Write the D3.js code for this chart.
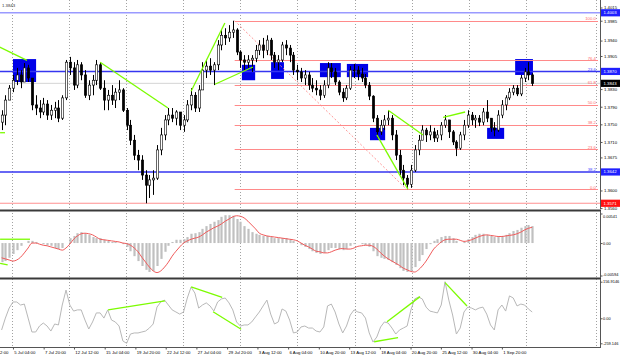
<!DOCTYPE html>
<html><head><meta charset="utf-8">
<script src="https://cdn.jsdelivr.net/npm/d3@7"></script>
<style>html,body{margin:0;padding:0;background:#fff;}svg{display:block;font-family:"Liberation Sans",Arial,sans-serif;}</style>
</head><body><svg id="c" width="620" height="357"></svg>
<script>
// ---------- DATA ----------
const firstOpen = 1.3755;
const highs = [1.3782,1.3816,1.3839,1.3862,1.3878,1.3873,1.3889,1.3885,1.3855,1.3816,
1.3805,1.3810,1.3805,1.3794,1.3801,1.3805,1.3816,1.3896,1.3903,1.3891,
1.3896,1.3891,1.3873,1.3850,1.3862,1.3896,1.3891,1.3850,1.3828,1.3839,
1.3832,1.3850,1.3832,1.3787,1.3760,1.3726,1.3692,1.3680,1.3646,1.3635,
1.3646,1.3703,1.3742,1.3771,1.3787,1.3787,1.3782,1.3778,1.3771,1.3805,
1.3832,1.3823,1.3839,1.3891,1.3896,1.3900,1.3891,1.3941,1.3964,1.3968,
1.3975,1.3985,1.3968,1.3918,1.3907,1.3907,1.3907,1.3930,1.3941,1.3946,
1.3952,1.3946,1.3914,1.3907,1.3937,1.3941,1.3930,1.3914,1.3885,1.3878,
1.3873,1.3869,1.3855,1.3850,1.3839,1.3850,1.3891,1.3889,1.3878,1.3850,
1.3832,1.3839,1.3882,1.3887,1.3882,1.3878,1.3864,1.3846,1.3816,1.3771,
1.3760,1.3771,1.3782,1.3771,1.3737,1.3692,1.3658,1.3635,1.3658,1.3703,
1.3726,1.3748,1.3742,1.3748,1.3742,1.3737,1.3755,1.3771,1.3760,1.3737,
1.3714,1.3733,1.3760,1.3782,1.3778,1.3771,1.3771,1.3787,1.3805,1.3764,
1.3755,1.3782,1.3805,1.3816,1.3832,1.3839,1.3839,1.3862,1.3878,1.3891,
1.3866];
const lows = [1.3737,1.3748,1.3805,1.3823,1.3839,1.3832,1.3850,1.3846,1.3782,1.3771,
1.3764,1.3771,1.3760,1.3760,1.3764,1.3755,1.3760,1.3805,1.3862,1.3828,
1.3832,1.3850,1.3810,1.3805,1.3816,1.3839,1.3828,1.3782,1.3782,1.3794,
1.3787,1.3805,1.3778,1.3737,1.3703,1.3669,1.3646,1.3624,1.3571,1.3583,
1.3590,1.3624,1.3680,1.3714,1.3748,1.3755,1.3748,1.3737,1.3733,1.3755,
1.3782,1.3778,1.3778,1.3828,1.3855,1.3862,1.3839,1.3873,1.3918,1.3930,
1.3937,1.3946,1.3907,1.3878,1.3873,1.3878,1.3869,1.3891,1.3907,1.3900,
1.3907,1.3896,1.3878,1.3873,1.3891,1.3907,1.3891,1.3862,1.3850,1.3846,
1.3839,1.3828,1.3823,1.3816,1.3805,1.3810,1.3832,1.3855,1.3839,1.3816,
1.3801,1.3805,1.3828,1.3855,1.3850,1.3846,1.3832,1.3805,1.3755,1.3719,
1.3726,1.3737,1.3748,1.3714,1.3669,1.3635,1.3612,1.3603,1.3606,1.3642,
1.3680,1.3714,1.3710,1.3714,1.3710,1.3710,1.3714,1.3742,1.3719,1.3703,
1.3678,1.3692,1.3714,1.3742,1.3748,1.3742,1.3746,1.3748,1.3755,1.3733,
1.3723,1.3733,1.3764,1.3782,1.3805,1.3816,1.3814,1.3814,1.3846,1.3850,
1.3837];
const closes = [1.3771,1.3805,1.3832,1.3850,1.3862,1.3846,1.3878,1.3855,1.3794,1.3787,
1.3778,1.3796,1.3771,1.3782,1.3787,1.3764,1.3810,1.3891,1.3878,1.3839,
1.3885,1.3862,1.3816,1.3839,1.3850,1.3885,1.3832,1.3805,1.3816,1.3805,
1.3823,1.3828,1.3782,1.3748,1.3714,1.3680,1.3669,1.3635,1.3612,1.3624,
1.3628,1.3692,1.3726,1.3760,1.3771,1.3764,1.3778,1.3748,1.3760,1.3794,
1.3816,1.3787,1.3828,1.3873,1.3882,1.3873,1.3885,1.3930,1.3952,1.3946,
1.3959,1.3964,1.3914,1.3896,1.3891,1.3896,1.3900,1.3918,1.3930,1.3918,
1.3941,1.3907,1.3891,1.3896,1.3930,1.3923,1.3907,1.3873,1.3869,1.3855,
1.3862,1.3839,1.3832,1.3828,1.3816,1.3839,1.3878,1.3869,1.3846,1.3823,
1.3810,1.3832,1.3873,1.3873,1.3864,1.3855,1.3839,1.3814,1.3764,1.3733,
1.3748,1.3760,1.3764,1.3726,1.3680,1.3646,1.3628,1.3614,1.3646,1.3692,
1.3714,1.3737,1.3726,1.3733,1.3719,1.3726,1.3748,1.3760,1.3733,1.3710,
1.3696,1.3726,1.3748,1.3771,1.3760,1.3764,1.3755,1.3778,1.3764,1.3742,
1.3737,1.3771,1.3794,1.3810,1.3823,1.3832,1.3819,1.3855,1.3869,1.3862,
1.3843];

const macdHist = [-0.0035,-0.0033,-0.0027,-0.0020,-0.0013,-0.0005,0,0.0004,0.0004,0.0002,
0,-0.0002,-0.0004,-0.0005,-0.0009,-0.0011,-0.0009,0,0.0009,0.0013,
0.0018,0.0020,0.0017,0.0015,0.0011,0.0009,0.0009,0.0006,0.0004,0.0002,
0.0002,0,-0.0002,-0.0007,-0.0015,-0.0024,-0.0033,-0.0042,-0.0049,-0.0053,
-0.0051,-0.0042,-0.0029,-0.0016,-0.0005,0.0002,0.0006,0.0006,0.0007,0.0011,
0.0017,0.0018,0.0020,0.0026,0.0031,0.0035,0.0039,0.0042,0.0048,0.0051,
0.0051,0.0050,0.0044,0.0039,0.0031,0.0026,0.0020,0.0017,0.0015,0.0013,
0.0013,0.0011,0.0009,0.0009,0.0009,0.0009,0.0007,0.0004,0,-0.0004,
-0.0007,-0.0011,-0.0015,-0.0018,-0.0020,-0.0018,-0.0013,-0.0009,-0.0009,-0.0011,
-0.0013,-0.0011,-0.0005,-0.0002,0,-0.0002,-0.0004,-0.0007,-0.0015,-0.0024,
-0.0027,-0.0029,-0.0031,-0.0035,-0.0040,-0.0046,-0.0051,-0.0053,-0.0051,-0.0044,
-0.0033,-0.0022,-0.0011,-0.0002,0.0004,0.0007,0.0011,0.0013,0.0013,0.0009,
0.0004,0,0.0002,0.0007,0.0011,0.0015,0.0017,0.0017,0.0015,0.0013,
0.0011,0.0011,0.0013,0.0015,0.0018,0.0022,0.0024,0.0028,0.0031,0.0033,
0.0031];
const macdSignal = [-0.0027,-0.0029,-0.0031,-0.0033,-0.0031,-0.0026,-0.0018,-0.0009,0,0,
-0.0002,-0.0004,-0.0005,-0.0007,-0.0009,-0.0011,-0.0013,-0.0009,-0.0002,0.0007,
0.0013,0.0017,0.0018,0.0017,0.0015,0.0011,0.0007,0.0006,0.0005,0.0004,
0.0003,0.0002,0,-0.0001,-0.0004,-0.0009,-0.0016,-0.0026,-0.0035,-0.0044,
-0.0051,-0.0054,-0.0051,-0.0044,-0.0035,-0.0024,-0.0015,-0.0007,0,0.0004,
0.0007,0.0009,0.0011,0.0015,0.0020,0.0024,0.0028,0.0031,0.0035,0.0040,
0.0044,0.0048,0.0050,0.0049,0.0046,0.0040,0.0033,0.0026,0.0018,0.0015,
0.0013,0.0012,0.0011,0.0010,0.0009,0.0008,0.0007,0.0006,0.0004,0,
-0.0004,-0.0007,-0.0011,-0.0015,-0.0016,-0.0018,-0.0018,-0.0016,-0.0013,-0.0011,
-0.0010,-0.0011,-0.0011,-0.0009,-0.0006,-0.0005,-0.0004,-0.0004,-0.0006,-0.0011,
-0.0018,-0.0024,-0.0029,-0.0033,-0.0037,-0.0041,-0.0046,-0.0049,-0.0052,-0.0053,
-0.0049,-0.0042,-0.0033,-0.0022,-0.0011,-0.0004,0.0002,0.0006,0.0007,0.0007,
0.0007,0.0005,0.0003,0.0004,0.0006,0.0009,0.0012,0.0014,0.0015,0.0014,
0.0013,0.0012,0.0012,0.0013,0.0014,0.0015,0.0017,0.0020,0.0024,0.0027,
0.0029];
const cci = [-121,1,44,70,70,57,61,1,-142,-142,
-80,-49,-80,-132,-59,-69,57,121,57,31,
36,36,-18,-111,-38,23,23,1,36,-18,
-38,-80,-235,-259.146,-163,-152,-152,-142,-132,-101,
-59,48,70,78,57,36,27,18,27,87,
134,108,44,57,66,53,31,70,83,87,
66,36,-38,-80,-69,-69,-38,6,27,53,
78,18,-59,-38,40,31,-18,-152,-142,-90,
-80,-101,-101,-132,-142,-90,53,61,27,-59,
-152,-80,14,36,27,23,1,-152,-246,-194,
-90,-38,-49,-101,-163,-121,-101,-80,36,83,
91,83,48,31,27,23,57,156.9146,78,14,
-163,-101,27,48,44,36,44,48,18,-69,
-121,36,57,31,96,87,53,61,57,40,
27];

const timeLabels = ["30 Jun 12:00","5 Jul 04:00","7 Jul 20:00","12 Jul 12:00","15 Jul 04:00","19 Jul 20:00","22 Jul 12:00","27 Jul 04:00","29 Jul 20:00","3 Aug 12:00","6 Aug 04:00","10 Aug 20:00","13 Aug 12:00","18 Aug 04:00","20 Aug 20:00","25 Aug 12:00","30 Aug 04:00","1 Sep 20:00"];
const timeLabelBars = [-5.1,3,11.1,19.1,27.2,35.3,43.3,51.4,59.5,67.5,75.6,83.7,91.7,99.8,107.9,115.9,124,132];
const gridBars = [2.74,17.8,32.8,47.9,62.9,78.0,93.3,108.3,123.3,138.4,156.8];

const priceTicks = [1.4015,1.3985,1.3940,1.3905,1.3830,1.3790,1.3750,1.3710,1.3675,1.3600,1.3560];
const levelPrices = [1.4003,1.3870,1.3642];
const levelTags = ["","23.6","38.2"];
const lastPrice = 1.3843;
const lowMark = 1.3571;

const fibNames = ["100.0","76.4","61.8","50.0","38.2","23.6","0.0"];
const fibPrices = [1.3985,1.3895,1.3839,1.3794,1.3749,1.3693,1.3603];
const fibAnchorBars = [61.5,106.8];
const fibAnchorPrices = [1.3985,1.3603];

const zoneBars = [[3.0,9.1],[63.4,66.9],[71.1,74.5],[84.0,89.5],[91.1,96.7],[97.2,101.2],[128.1,132.6],[135.5,140.2]];
const zonePrices = [[1.3898,1.3846],[1.3885,1.3850],[1.3891,1.3853],[1.3889,1.3857],[1.3887,1.3857],[1.3742,1.3714],[1.3742,1.3717],[1.3898,1.3862]];

const trendBars = [[-0.5,6.7],[26,43.9],[50,58.9],[56.3,66.3],[102,111.2],[99,107.2],[116.5,122.3],[-0.4,0.9]];
const trendPrices = [[1.3925,1.3895],[1.3891,1.3787],[1.3825,1.3980],[1.3841,1.3880],[1.3782,1.3726],[1.3726,1.3603],[1.3766,1.3778],[1.3731,1.3731]];
const macdTrendBars = [[-0.4,7.5],[-0.4,1.6]];
const macdTrendVals = [[0.0007,0.0007],[-0.0037,-0.0040]];
const cciTrendBars = [[28.1,43.1],[50,58.2],[55.8,63.2],[101.7,110.4],[98.3,104.6],[117,122.8]];
const cciTrendVals = [[36,75],[135,90],[28,-114],[-35,93],[-243,-201],[153,53]];

const macdTicks = [0.00541,0,-0.00594];
const macdTickLabels = ["0.00541","0.00","-0.00594"];
const cciTicks = [156.9146,0,-259.146];
const cciTickLabels = ["156.9146","0.00","-259.146"];

// ---------- LAYOUT ----------
const R = 600, FS = 4.3, FS2 = 3.9;
const svg = d3.select("#c");
const x = d3.scaleLinear().domain([0,140]).range([1.6,532.2]);
const yP = d3.scaleLinear().domain([1.3558,1.4032]).range([209,0]);
const yM = d3.scaleLinear().domain([-0.00594,0.00541]).range([275.5,213.5]);
const yC = d3.scaleLinear().domain([-259.146,0,156.9146]).range([343.3,318.3,281.7]);
const GREEN = "#7cfc00", PINK = "#ff8a8a";

svg.append("rect").attr("width",620).attr("height",357).attr("fill","#fff");
const defs = svg.append("defs");
[["cm",0,0,R,209],["cmacd",0,212,R,66],["ccci",0,280,R,67]].forEach(([id,x0,y0,w,h])=>{
  defs.append("clipPath").attr("id",id).append("rect").attr("x",x0).attr("y",y0).attr("width",w).attr("height",h);
});

// grid
svg.append("g").selectAll("line").data(gridBars).join("line")
  .attr("x1",d=>Math.round(x(d))+0.5).attr("x2",d=>Math.round(x(d))+0.5)
  .attr("y1",0).attr("y2",347).attr("stroke","#8a8a8a").attr("stroke-width",0.8).attr("stroke-dasharray","1,2");

// ---------- MAIN ----------
const main = svg.append("g").attr("clip-path","url(#cm)");
main.selectAll("rect.zone").data(zoneBars).join("rect").attr("class","zone")
  .attr("x",d=>x(d[0])).attr("width",d=>x(d[1])-x(d[0]))
  .attr("y",(d,i)=>yP(zonePrices[i][0])).attr("height",(d,i)=>yP(zonePrices[i][1])-yP(zonePrices[i][0]))
  .attr("fill","#0000e8");
main.append("line").attr("x1",0).attr("x2",R).attr("y1",yP(lastPrice)).attr("y2",yP(lastPrice)).attr("stroke","#c8c8c8").attr("stroke-width",0.8);
main.append("line").attr("x1",0).attr("x2",R).attr("y1",yP(lowMark)).attr("y2",yP(lowMark)).attr("stroke","#ff9090").attr("stroke-width",1.2);
main.selectAll("line.fib").data(fibPrices).join("line").attr("class","fib")
  .attr("x1",x(fibAnchorBars[0])).attr("x2",598).attr("y1",d=>Math.round(yP(d))+0.5).attr("y2",d=>Math.round(yP(d))+0.5)
  .attr("stroke",PINK).attr("stroke-width",1);
main.append("line").attr("x1",x(fibAnchorBars[0])).attr("y1",yP(fibAnchorPrices[0]))
  .attr("x2",x(fibAnchorBars[1])).attr("y2",yP(fibAnchorPrices[1]))
  .attr("stroke",PINK).attr("stroke-width",0.9).attr("stroke-dasharray","2,2");
main.selectAll("line.lvl").data(levelPrices).join("line").attr("class","lvl")
  .attr("x1",0).attr("x2",R).attr("y1",d=>yP(d)).attr("y2",d=>yP(d))
  .attr("stroke",(d,i)=>i===0?"#9a9aff":"#3535f0").attr("stroke-width",(d,i)=>i===0?1.6:1.4);

// candles
const cand = closes.map((c,i)=>{const o=i?closes[i-1]:firstOpen;return {i,o,c,h:Math.max(highs[i],o,c),l:Math.min(lows[i],o,c)};});
main.append("g").selectAll("line").data(cand).join("line")
  .attr("x1",d=>Math.round(x(d.i))+0.5).attr("x2",d=>Math.round(x(d.i))+0.5)
  .attr("y1",d=>yP(d.h)).attr("y2",d=>yP(d.l)).attr("stroke","#000").attr("stroke-width",1);
main.append("g").selectAll("rect").data(cand).join("rect")
  .attr("x",d=>Math.round(x(d.i))+0.5-1.2).attr("width",2.4)
  .attr("y",d=>yP(Math.max(d.o,d.c))).attr("height",d=>Math.max(0.6,yP(Math.min(d.o,d.c))-yP(Math.max(d.o,d.c))))
  .attr("fill",d=>d.c>=d.o?"#fff":"#000").attr("stroke","#000").attr("stroke-width",0.6);

main.selectAll("line.tr").data(trendBars).join("line").attr("class","tr")
  .attr("x1",d=>x(d[0])).attr("x2",d=>x(d[1]))
  .attr("y1",(d,i)=>yP(trendPrices[i][0])).attr("y2",(d,i)=>yP(trendPrices[i][1]))
  .attr("stroke",GREEN).attr("stroke-width",1.3);

main.selectAll("text.fl").data(fibNames).join("text").attr("class","fl")
  .attr("x",596).attr("y",(d,i)=>yP(fibPrices[i])-0.6).attr("text-anchor","end")
  .attr("font-size",FS).attr("fill","#ff6a6a").text(d=>d);
main.selectAll("text.ll").data(levelTags).join("text").attr("class","ll")
  .attr("x",596).attr("y",(d,i)=>yP(levelPrices[i])-0.8).attr("text-anchor","end")
  .attr("font-size",FS).attr("fill","#4a4aff").text(d=>d);
main.append("text").attr("x",2).attr("y",7).attr("font-size",FS).attr("fill","#333").text("1.3843");

// ---------- MACD ----------
const gm = svg.append("g").attr("clip-path","url(#cmacd)");
gm.selectAll("rect").data(macdHist).join("rect")
  .attr("x",(d,i)=>Math.round(x(i))+0.5-1.1).attr("width",2.2)
  .attr("y",d=>Math.min(yM(d),yM(0))).attr("height",d=>Math.abs(yM(d)-yM(0)))
  .attr("fill","#c0c0c0");
gm.append("path").datum(macdSignal)
  .attr("d",d3.line().x((d,i)=>x(i)).y(d=>yM(d)).curve(d3.curveMonotoneX))
  .attr("fill","none").attr("stroke","#f05a5a").attr("stroke-width",1);
gm.selectAll("line.mt").data(macdTrendBars).join("line").attr("class","mt")
  .attr("x1",d=>x(d[0])).attr("x2",d=>x(d[1]))
  .attr("y1",(d,i)=>yM(macdTrendVals[i][0])).attr("y2",(d,i)=>yM(macdTrendVals[i][1]))
  .attr("stroke",GREEN).attr("stroke-width",1.3);

// ---------- CCI ----------
const gc = svg.append("g").attr("clip-path","url(#ccci)");
gc.append("path").datum(cci)
  .attr("d",d3.line().x((d,i)=>x(i)).y(d=>yC(d)))
  .attr("fill","none").attr("stroke","#b8b8b8").attr("stroke-width",1);
gc.selectAll("line.ct").data(cciTrendBars).join("line").attr("class","ct")
  .attr("x1",d=>x(d[0])).attr("x2",d=>x(d[1]))
  .attr("y1",(d,i)=>yC(cciTrendVals[i][0])).attr("y2",(d,i)=>yC(cciTrendVals[i][1]))
  .attr("stroke",GREEN).attr("stroke-width",1.3);

// ---------- FRAMES ----------
svg.append("rect").attr("x",0).attr("y",209.5).attr("width",R+1).attr("height",2).attr("fill","#3a3a3a");
svg.append("rect").attr("x",0).attr("y",277.5).attr("width",R+1).attr("height",2).attr("fill","#3a3a3a");
svg.append("line").attr("x1",0).attr("x2",R+1).attr("y1",347.5).attr("y2",347.5).attr("stroke","#555").attr("stroke-width",1);

// ---------- AXES ----------
function styleAxis(g, fs){
  g.selectAll("text").attr("font-size",fs).attr("fill","#000").attr("font-family","'Liberation Sans',Arial,sans-serif");
  g.selectAll("line").attr("stroke","#555");
  g.select(".domain").attr("stroke","#555");
}
const axP = svg.append("g").attr("transform",`translate(${R+0.5},0)`)
  .call(d3.axisRight(yP).tickValues(priceTicks).tickFormat(d3.format(".4f")).tickSize(2).tickPadding(1.5));
styleAxis(axP, FS);
axP.select(".domain").attr("d","M0,0V209");
const axM = svg.append("g").attr("transform",`translate(${R+0.5},0)`)
  .call(d3.axisRight(yM).tickValues(macdTicks).tickFormat((d,i)=>macdTickLabels[i]).tickSize(2).tickPadding(0.5));
styleAxis(axM, FS2);
axM.select(".domain").attr("d","M0,211V278");
axM.selectAll(".tick text").attr("dy",(d,i)=>i===0?"0.9em":i===2?"0.1em":"0.32em");
const axC = svg.append("g").attr("transform",`translate(${R+0.5},0)`)
  .call(d3.axisRight(yC).tickValues(cciTicks).tickFormat((d,i)=>cciTickLabels[i]).tickSize(2).tickPadding(0.5));
styleAxis(axC, FS2);
axC.select(".domain").attr("d","M0,279V347");

const timeAxis = svg.append("g").attr("transform","translate(0,347.5)")
  .call(d3.axisBottom(x).tickValues(timeLabelBars).tickFormat((d,i)=>timeLabels[i]).tickSize(2).tickPadding(1));
styleAxis(timeAxis, FS);
timeAxis.select(".domain").remove();
timeAxis.selectAll(".tick text").attr("text-anchor","start").attr("x",0.8);

// price tag boxes
const tags = [
  {v:levelPrices[0], bg:"#2020ff"},{v:levelPrices[1], bg:"#2020ff"},
  {v:lastPrice, bg:"#000"},{v:levelPrices[2], bg:"#2020ff"},{v:lowMark, bg:"#ff1010"}];
const tg = svg.append("g").selectAll("g").data(tags).join("g").attr("transform",d=>`translate(${R+1},${yP(d.v)})`);
tg.append("rect").attr("x",0).attr("y",-3.6).attr("width",19).attr("height",7.2).attr("fill",d=>d.bg);
tg.append("text").attr("x",2.5).attr("y",0).attr("dy","0.35em").attr("font-size",FS).attr("fill","#fff").text(d=>d3.format(".4f")(d.v));
</script></body></html>
